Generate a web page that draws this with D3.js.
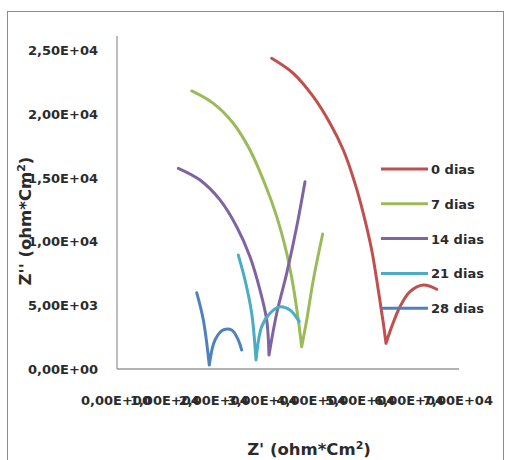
<!DOCTYPE html>
<html lang="en">
  <head>
    <meta charset="utf-8" />
    <script src="https://cdn.jsdelivr.net/npm/d3@7"></script>
    <style>
      body { margin: 0; background: white; }
      text { font-family: "DejaVu Sans", sans-serif; font-weight: bold; fill: #2b2b2b; }
    </style>
  </head>
  <body>
    <script>
      // series names and their points: [Z', Z'']
      const seriesNames = ["0 dias", "7 dias", "14 dias", "21 dias", "28 dias"];
      const seriesColors = ["#C0504D", "#9BBB59", "#8064A2", "#4BACC6", "#4F81BD"];

      const dias0 = [
        [31660, 24350], [36090, 23170], [40180, 21340], [43600, 19260], [46320, 17160],
        [48710, 14550], [50410, 12200], [52130, 9330], [53480, 6190], [54510, 3590],
        [55060, 2010], [56230, 3320], [57920, 4880], [59970, 6060], [62690, 6580], [65440, 6250]
      ];
      const dias7 = [
        [15290, 21790], [19710, 20820], [23800, 19260], [27220, 17160], [29950, 14810],
        [32690, 11940], [34730, 9070], [36090, 6450], [37110, 3840], [37800, 1750],
        [38830, 3840], [40180, 6980], [42100, 10580]
      ];
      const dias14 = [
        [12550, 15730], [16990, 14810], [21080, 13250], [24500, 11150], [27220, 8800],
        [29270, 6190], [30640, 3840], [31110, 1100], [32690, 4370], [34730, 7500],
        [36780, 11150], [38480, 14680]
      ];
      const dias21 = [
        [24830, 8930], [26200, 6980], [27570, 4370], [28450, 710], [29620, 3320],
        [31320, 4370], [33360, 4880], [35410, 4620], [37310, 3710]
      ];
      const dias28 = [
        [16310, 5980], [17670, 3840], [18890, 310], [20060, 2270], [21760, 3060],
        [23480, 3060], [24830, 2270], [25520, 1490]
      ];
      const seriesData = [dias0, dias7, dias14, dias21, dias28];

      const xTicks = [0, 10000, 20000, 30000, 40000, 50000, 60000, 70000];
      const yTicks = [0, 5000, 10000, 15000, 20000, 25000];

      const width = 506, height = 460;
      // 25000 -> "2,50E+04"
      const fmt = (v) => {
        const [m, e] = v.toExponential(2).split("e");
        const n = Math.abs(+e);
        return m.replace(".", ",") + "E" + (+e < 0 ? "-" : "+") + (n < 10 ? "0" : "") + n;
      };

      const svg = d3.select("body").append("svg")
        .attr("width", width)
        .attr("height", height);

      // outer chart frame
      svg.append("rect")
        .attr("x", 7.5).attr("y", 11.5)
        .attr("width", 496).attr("height", 460)
        .attr("fill", "white")
        .attr("stroke", "#8c8c8c")
        .attr("stroke-width", 1);

      const x = d3.scaleLinear().domain([0, 70000]).range([117, 459]);
      const y = d3.scaleLinear().domain([0, 25000]).range([369, 50]);

      // axes lines
      svg.append("line")
        .attr("x1", 117).attr("x2", 117)
        .attr("y1", 36).attr("y2", y(0))
        .attr("stroke", "#9a9a9a").attr("stroke-width", 1.3);
      svg.append("line")
        .attr("x1", 117).attr("x2", x(70000))
        .attr("y1", y(0)).attr("y2", y(0))
        .attr("stroke", "#9a9a9a").attr("stroke-width", 1.3);

      // tick labels
      svg.selectAll(".ytick").data(yTicks).enter().append("text")
        .attr("class", "ytick")
        .attr("x", 98)
        .attr("y", (d) => y(d) + 5)
        .attr("text-anchor", "end")
        .style("font-size", "13px")
        .text(fmt);

      svg.selectAll(".xtick").data(xTicks).enter().append("text")
        .attr("class", "xtick")
        .attr("x", (d) => x(d) - 1)
        .attr("y", 405)
        .attr("text-anchor", "middle")
        .style("font-size", "13px")
        .text(fmt);

      // axis titles
      svg.append("text")
        .attr("x", 309).attr("y", 455)
        .attr("text-anchor", "middle")
        .style("font-size", "16.5px")
        .html("Z' (ohm*Cm<tspan dy='-6' font-size='11px'>2</tspan><tspan dy='6'>)</tspan>");

      svg.append("text")
        .attr("transform", "translate(31,221) rotate(-90)")
        .attr("text-anchor", "middle")
        .style("font-size", "16.5px")
        .html("Z'' (ohm*Cm<tspan dy='-6' font-size='11px'>2</tspan><tspan dy='6'>)</tspan>");

      // curves: smooth on each side of the cusp (lowest point), sharp at the cusp itself
      const line = d3.line()
        .x((d) => x(d[0]))
        .y((d) => y(d[1]))
        .curve(d3.curveCatmullRom.alpha(0.5));
      const cuspPath = (pts) => {
        const k = d3.minIndex(pts, (d) => d[1]);
        return line(pts.slice(0, k + 1)) + line(pts.slice(k));
      };

      svg.selectAll(".series").data(seriesData).enter().append("path")
        .attr("class", "series")
        .attr("d", cuspPath)
        .attr("fill", "none")
        .attr("stroke", (d, i) => seriesColors[i])
        .attr("stroke-width", 3)
        .attr("stroke-linejoin", "round")
        .attr("stroke-linecap", "round");

      // legend
      const legend = svg.selectAll(".legend").data(seriesNames).enter().append("g")
        .attr("class", "legend")
        .attr("transform", (d, i) => `translate(381,${169 + i * 34.8})`);
      legend.append("line")
        .attr("x1", 0).attr("x2", 47)
        .attr("y1", 0).attr("y2", 0)
        .attr("stroke", (d, i) => seriesColors[i])
        .attr("stroke-width", 3);
      legend.append("text")
        .attr("x", 50).attr("y", 5)
        .style("font-size", "13px")
        .text((d) => d);
    </script>
  </body>
</html>
